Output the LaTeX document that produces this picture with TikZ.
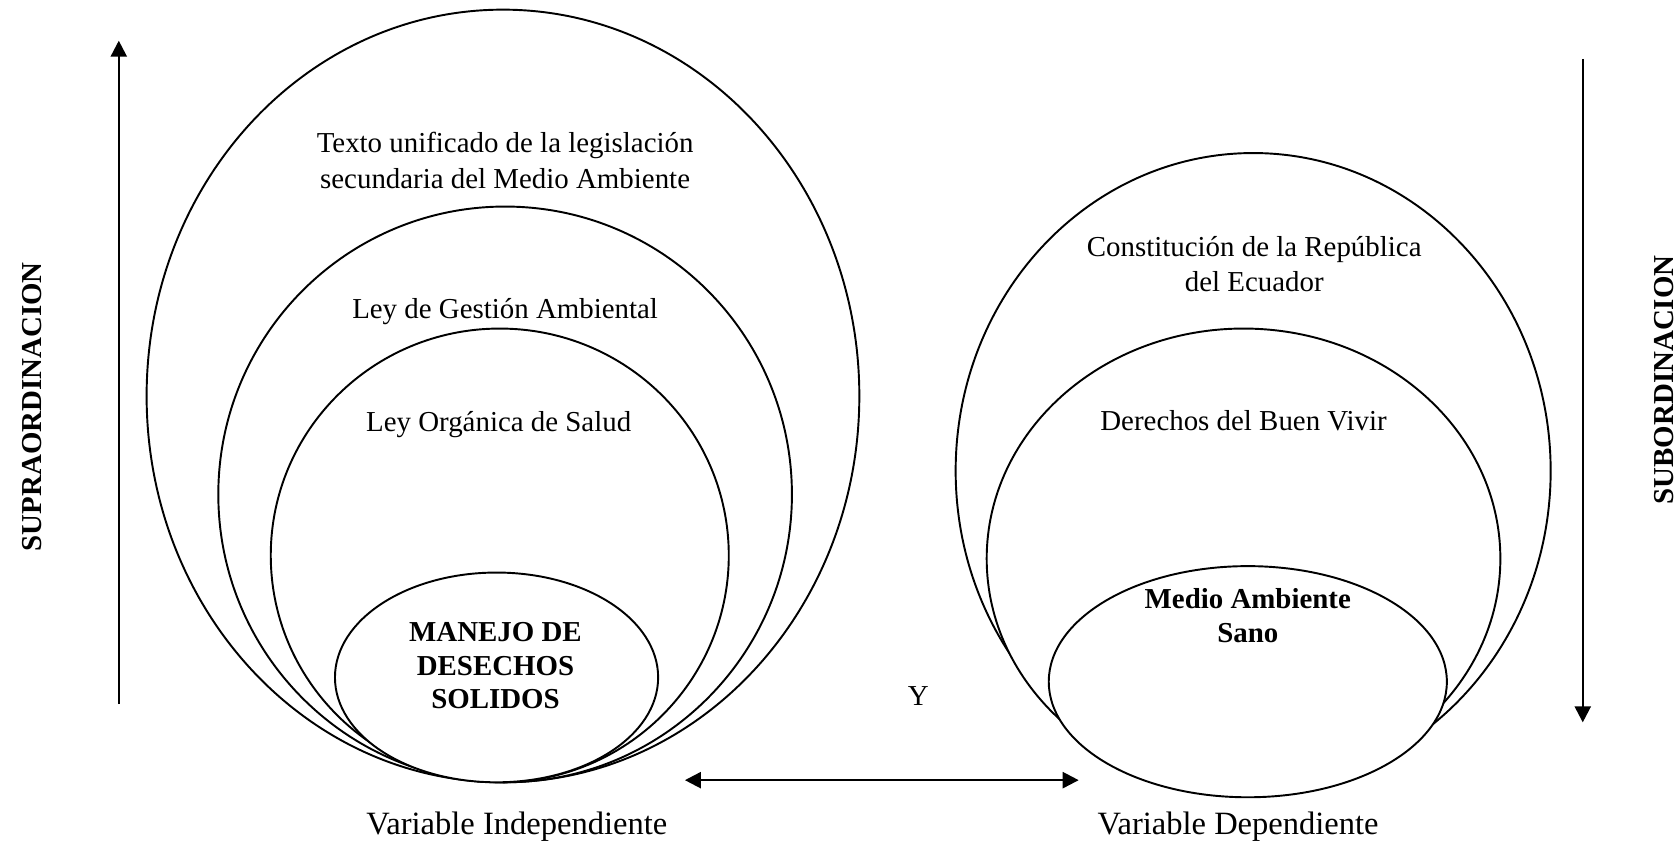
\documentclass[tikz,border=0pt]{standalone}
\usepackage{fontspec}
\setmainfont{Liberation Serif}
\usetikzlibrary{arrows.meta,shapes.geometric}
\begin{document}
\begin{tikzpicture}[x=0.5pt,y=-0.5pt,
  ell/.style={draw,ellipse,line width=0.9pt,fill=white,inner sep=0pt},
  lbl/.style={font=\fontsize{13.5}{16.5}\selectfont,align=center,inner sep=0pt},
  vlbl/.style={font=\fontsize{15.2}{18}\selectfont,align=center,inner sep=0pt},
  blbl/.style={font=\fontsize{13.5}{15.75}\selectfont\bfseries,align=center,inner sep=0pt},
  tip/.style={},
  arr/.style={line width=1.1pt,-{Triangle[length=7.5pt,width=7.5pt]}},
  darr/.style={line width=1.1pt,{Triangle[length=7.5pt,width=7.5pt]}-{Triangle[length=7.5pt,width=7.5pt]}}]
\useasboundingbox (0,0) rectangle (1568,789);
% left ellipses
\node[ell,minimum width=333pt,minimum height=361pt] (e1) at (470,370) {};
\node[ell,minimum width=268pt,minimum height=269pt] (e2) at (472,462) {};
\node[ell,minimum width=214pt,minimum height=212pt] (e3) at (467,519) {};
\node[ell,minimum width=151pt,minimum height=98pt] (e4) at (464,633) {};
% right ellipses
\node[ell,minimum width=278pt,minimum height=297pt] (r1) at (1171,440) {};
\node[ell,minimum width=240pt,minimum height=215pt] (r2) at (1162,522) {};
\node[ell,minimum width=186pt,minimum height=108pt] (r3) at (1166,637) {};
% texts
\node[lbl] (t1) at (472,150) {Texto unificado de la legislación\\secundaria del Medio Ambiente};
\node[lbl] (t2) at (472,291) {Ley de Gestión Ambiental};
\node[lbl] (t3) at (466,397) {Ley Orgánica de Salud};
\node[blbl] (t4) at (463,622) {MANEJO DE\\DESECHOS\\SOLIDOS};
\node[lbl] (t5) at (1172,247) {Constitución de la República\\del Ecuador};
\node[lbl] (t6) at (1162,393) {Derechos del Buen Vivir};
\node[blbl] (t7) at (1166,575) {Medio Ambiente\\Sano};
\node[lbl] (ty) at (858,650) {Y};
\node[vlbl] (vi) at (483,772) {Variable Independiente};
\node[vlbl] (vd) at (1157,772) {Variable Dependiente};
\node[blbl,rotate=90] (sup) at (30,380) {SUPRAORDINACION};
\node[blbl,rotate=90] (sub) at (1555,355) {SUBORDINACION};
% arrows
\coordinate (la1) at (111,658);
\coordinate (la2) at (111,38);
\draw[arr] (la1) -- (la2);
\coordinate (ra1) at (1479,55);
\coordinate (ra2) at (1479,675);
\draw[arr] (ra1) -- (ra2);
\coordinate (ha1) at (640,729);
\coordinate (ha2) at (1008,729);
\draw[darr] (ha1) -- (ha2);
\end{tikzpicture}
\end{document}
